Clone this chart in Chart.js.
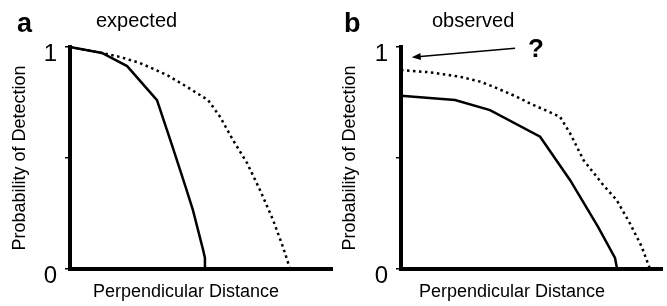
<!DOCTYPE html>
<html>
<head>
<meta charset="utf-8">
<script src="https://cdn.jsdelivr.net/npm/chart.js@4.4.0/dist/chart.umd.min.js"></script>
<style>
body { margin: 0; background: #fff; }
#wrap { position: relative; width: 667px; height: 306px; overflow: hidden;
        font-family: "Liberation Sans", Arial, Helvetica, sans-serif; color: #000; }
canvas { position: absolute; top: 0; }
.txt { position: absolute; line-height: 1; white-space: nowrap; }
.xt { width: 300px; text-align: center; font-size: 18px; top: 282px; }
</style>
</head>
<body>
<div id="wrap">
  <canvas id="panelA" width="334" height="306" style="left:0px"></canvas>
  <canvas id="panelB" width="333" height="306" style="left:334px"></canvas>
  <div class="txt" style="left:17px;top:10px;font-size:27px;font-weight:bold">a</div>
  <div class="txt" style="left:96px;top:10px;font-size:20px">expected</div>
  <div class="txt" style="left:344px;top:10px;font-size:27px;font-weight:bold">b</div>
  <div class="txt" style="left:432px;top:10px;font-size:20px">observed</div>
  <div class="txt xt" style="left:36px">Perpendicular Distance</div>
  <div class="txt xt" style="left:362px">Perpendicular Distance</div>
</div>
<script>
// y axis ticks
var yTickValues = [0, 0.5, 1];
var yTickLabels = ['0', '', '1'];

// panel a - expected
var aSolidX = [0, 1.22, 2.18, 3.32, 3.89, 4.39, 4.69, 5.08, 5.15, 5.15];
var aSolidY = [1, 0.973, 0.914, 0.761, 0.559, 0.378, 0.266, 0.086, 0.05, 0];
var aDotX = [0, 1.22, 1.91, 2.67, 3.70, 4.47, 5.27, 5.73, 6.22, 6.76, 7.25, 7.75, 8.13, 8.40];
var aDotY = [1, 0.973, 0.955, 0.928, 0.874, 0.820, 0.761, 0.685, 0.581, 0.477, 0.356, 0.221, 0.099, 0];

// panel b - observed
var bSolidX = [0, 2.07, 3.41, 5.33, 6.48, 7.55, 8.20, 8.28];
var bSolidY = [0.78, 0.761, 0.716, 0.596, 0.40, 0.19, 0.05, 0];
var bDotX = [0, 1.11, 2.26, 3.03, 3.54, 4.43, 4.94, 6.09, 6.48, 6.99, 7.75, 8.26, 8.77, 9.22, 9.54];
var bDotY = [0.896, 0.886, 0.866, 0.844, 0.821, 0.776, 0.746, 0.686, 0.611, 0.491, 0.378, 0.311, 0.206, 0.101, 0];

// the "?" note and its arrow in panel b
var arrowTail = [4.37, 0.994];
var arrowHead = [0.41, 0.954];
var questionAt = [5.17, 0.986];
var questionMark = '?';

function pts(xs, ys) {
    return xs.map(function (x, i) { return {x: x, y: ys[i]}; });
}

var arrowNote = {
    id: 'arrowNote',
    afterDatasetsDraw: function (chart) {
        var ctx = chart.ctx, xs = chart.scales.x, ys = chart.scales.y;
        var x1 = xs.getPixelForValue(arrowTail[0]), y1 = ys.getPixelForValue(arrowTail[1]);
        var x2 = xs.getPixelForValue(arrowHead[0]), y2 = ys.getPixelForValue(arrowHead[1]);
        var a = Math.atan2(y2 - y1, x2 - x1), c = Math.cos(a), s = Math.sin(a);
        ctx.save();
        ctx.strokeStyle = '#000';
        ctx.fillStyle = '#000';
        ctx.lineWidth = 1.5;
        ctx.beginPath();
        ctx.moveTo(x1, y1);
        ctx.lineTo(x2 - 6 * c, y2 - 6 * s);
        ctx.stroke();
        ctx.beginPath();
        ctx.moveTo(x2, y2);
        ctx.lineTo(x2 - 9 * c + 3.5 * s, y2 - 9 * s - 3.5 * c);
        ctx.lineTo(x2 - 9 * c - 3.5 * s, y2 - 9 * s + 3.5 * c);
        ctx.closePath();
        ctx.fill();
        ctx.font = 'bold 26px "Liberation Sans", Arial, sans-serif';
        ctx.textAlign = 'center';
        ctx.textBaseline = 'middle';
        ctx.fillText(questionMark, xs.getPixelForValue(questionAt[0]), ys.getPixelForValue(questionAt[1]));
        ctx.restore();
    }
};

function makePanel(id, solidX, solidY, dotX, dotY, opt) {
    return new Chart(document.getElementById(id), {
        type: 'line',
        data: {
            datasets: [
                {data: pts(dotX, dotY), borderColor: '#000', borderWidth: 2.5, borderDash: [2.5, 3.5],
                 pointRadius: 0, tension: 0, clip: false},
                {data: pts(solidX, solidY), borderColor: '#000', borderWidth: 2.5,
                 pointRadius: 0, tension: 0, clip: false}
            ]
        },
        options: {
            responsive: false,
            animation: false,
            devicePixelRatio: 1,
            layout: {padding: {top: 47, right: opt.padRight, left: 0, bottom: 0}},
            plugins: {legend: {display: false}, tooltip: {enabled: false}},
            scales: {
                x: {
                    type: 'linear', min: 0, max: 10,
                    ticks: {display: false},
                    grid: {display: true, drawOnChartArea: false, drawTicks: false},
                    border: {display: true, color: '#000', width: 4},
                    afterFit: function (s) { s.height = 37; }
                },
                y: {
                    min: 0, max: 1,
                    afterBuildTicks: function (s) {
                        s.ticks = yTickValues.map(function (v) { return {value: v}; });
                    },
                    ticks: {
                        callback: function (v) { return yTickLabels[yTickValues.indexOf(v)]; },
                        font: {family: 'Liberation Sans', size: 24},
                        color: '#000', padding: 8, labelOffset: 7
                    },
                    grid: {drawOnChartArea: false, drawTicks: true, tickLength: 5, color: '#000', lineWidth: 1.5},
                    border: {display: true, color: '#000', width: 4},
                    title: {
                        display: true, text: 'Probability of Detection', color: '#000',
                        font: {family: 'Liberation Sans', size: 18},
                        padding: {top: opt.titlePad, bottom: 0}
                    },
                    afterFit: function (s) { s.width = opt.yWidth; }
                }
            }
        },
        plugins: opt.plugins || []
    });
}

makePanel('panelA', aSolidX, aSolidY, aDotX, aDotY, {padRight: 2, yWidth: 70, titlePad: 9});
makePanel('panelB', bSolidX, bSolidY, bDotX, bDotY, {padRight: 5, yWidth: 67, titlePad: 5, plugins: [arrowNote]});
</script>
</body>
</html>
